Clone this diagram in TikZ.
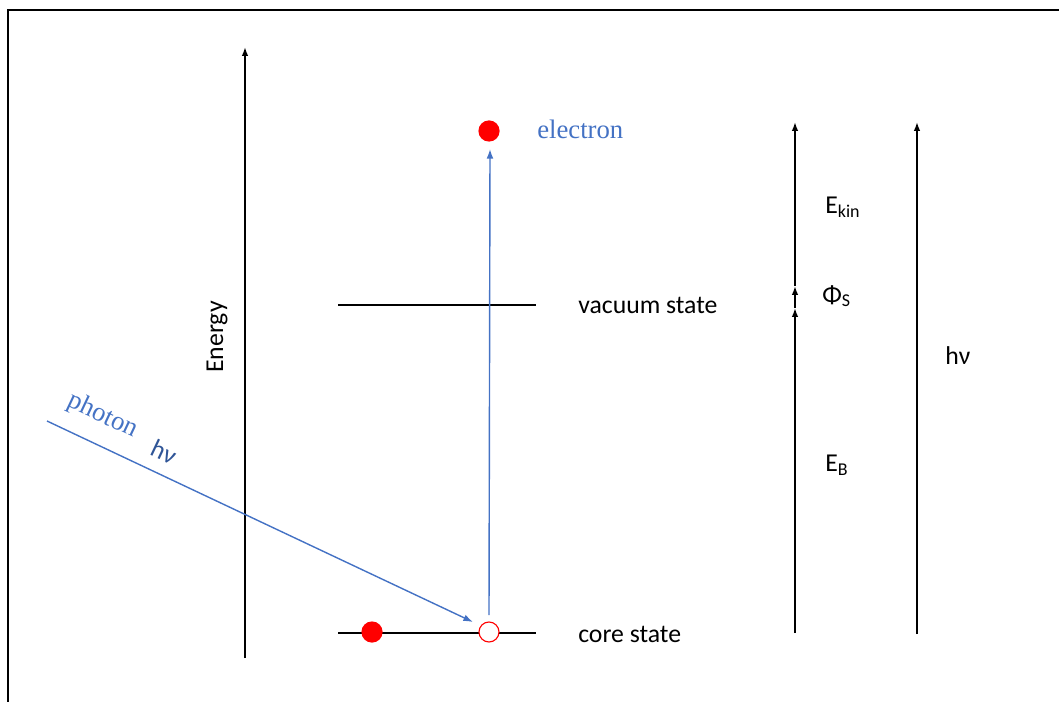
\documentclass[tikz,border=0pt]{standalone}
\usepackage{fontspec}
\setmainfont{Carlito}
\newfontfamily\timesfont{Liberation Serif}
\usepackage{xcolor}
\usetikzlibrary{arrows.meta}

\definecolor{photonblue}{RGB}{68,114,196}
\definecolor{darkblue}{RGB}{47,85,151}
\definecolor{dotred}{RGB}{255,0,0}

\begin{document}
\begin{tikzpicture}[
  x=0.025cm, y=-0.025cm,
  level/.style={line width=1.1pt},
  axis/.style={-{Latex[length=2.2mm,width=1.6mm]}, line width=1.1pt},
  beam/.style={-{Latex[length=2.4mm,width=1.7mm]}, line width=1pt, photonblue},
  label/.style={font=\fontsize{18.3}{20}\selectfont, inner sep=0pt},
  bluelabel/.style={font=\timesfont\fontsize{19}{21}\selectfont, text=photonblue, inner sep=0pt},
  fulldot/.style={circle, fill=dotred, minimum size=0.53cm, inner sep=0pt},
  holedot/.style={circle, draw=dotred, fill=white, line width=0.8pt, minimum size=0.5cm, inner sep=0pt}
]
  \useasboundingbox (0,0) rectangle (1059,702);
  \draw[line width=1pt] (8,702) -- (8,10) -- (1059,10);

  % energy axis
  \coordinate (e0) at (245,658);
  \coordinate (e1) at (245,47);
  \draw[axis] (e0) -- (e1);
  \node[label, rotate=90] (energy) at (217,337) {Energy};

  % levels
  \coordinate (vacL) at (338,305);
  \coordinate (vacR) at (536,305);
  \coordinate (coreL) at (338,633);
  \coordinate (coreR) at (536,633);
  \draw[level] (vacL) -- (vacR);
  \draw[level] (coreL) -- (coreR);
  \node[label, anchor=west] (vaclabel) at (578,305) {vacuum state};
  \node[label, anchor=west] (corelabel) at (578,634) {core state};

  % electrons
  \node[fulldot] (bound) at (372,632) {};
  \node[holedot] (hole) at (489,632) {};
  \node[fulldot] (free) at (489,131) {};
  \node[bluelabel, anchor=west] (electron) at (537,129) {electron};

  % photon and excitation
  \coordinate (src) at (47,421);
  \coordinate (hit) at (473,622);
  \coordinate (up0) at (489,615);
  \coordinate (up1) at (490,149);
  \draw[beam] (src) -- (hit);
  \draw[beam] (up0) -- (up1);
  \node[bluelabel, rotate=-25.3] (photon) at (103,416) {photon};
  \node[label, rotate=-25.3, text=darkblue] (photonhv) at (164,452) {hν};

  % energy balance
  \coordinate (b0) at (795,633);
  \coordinate (b1) at (795,308);
  \coordinate (b2) at (795,286);
  \coordinate (b3) at (795,122);
  \draw[axis] (b0) -- (b1);
  \draw[axis] (b1) -- (b2);
  \draw[axis] (b2) -- (b3);
  \node[label, anchor=west] (ekin) at (825,207) {E\textsubscript{kin}};
  \node[label, anchor=west] (phis) at (822,296) {Φ\textsubscript{S}};
  \node[label, anchor=west] (eb) at (825,465) {E\textsubscript{B}};

  \coordinate (h0) at (917,634);
  \coordinate (h1) at (917,122);
  \draw[axis] (h0) -- (h1);
  \node[label, anchor=west] (hv) at (945,356) {hν};
\end{tikzpicture}
\end{document}
